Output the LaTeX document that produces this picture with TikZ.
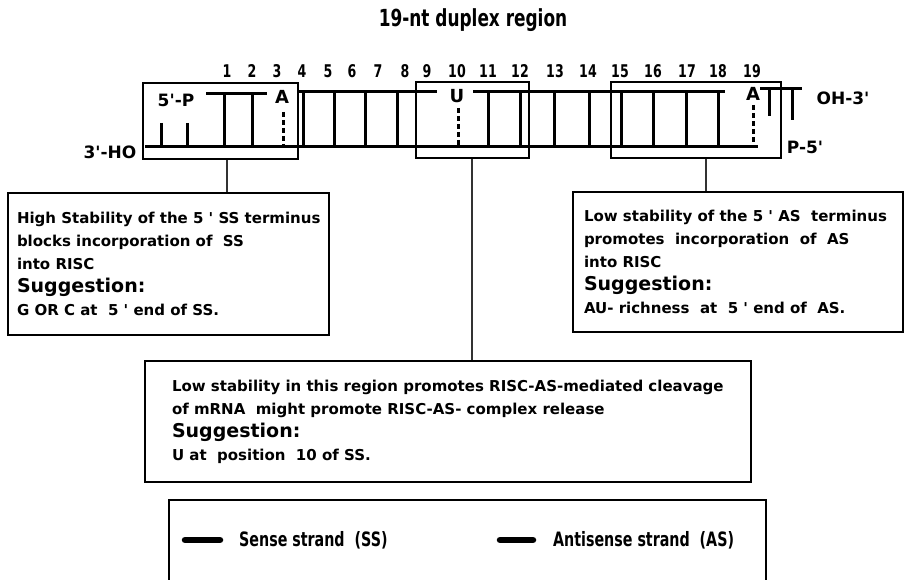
\documentclass[tikz,border=0pt]{standalone}
\usepackage{fontspec}
\setmainfont{DejaVu Sans}
\newfontfamily\narrowfont[FakeStretch=0.72]{DejaVu Sans}
\usetikzlibrary{positioning}
\newcommand{\prm}{\textquotesingle}
\newcommand{\sugg}{{\fontsize{19}{23}\selectfont Suggestion:}}
\tikzset{
  strand/.style={line width=3pt},
  rung/.style={line width=3pt},
  weakpair/.style={line width=3pt, dash pattern=on 5pt off 3pt},
  region/.style={draw, line width=2.6pt, inner sep=0pt},
  notebox/.style={draw, line width=2.4pt, inner sep=0pt},
  notetext/.style={font=\fontsize{15}{23}\selectfont\bfseries, align=left, inner sep=0pt},
  endlbl/.style={font=\fontsize{17}{17}\selectfont\bfseries, inner sep=0pt},
  posnum/.style={font=\narrowfont\fontsize{17.5}{18}\selectfont\bfseries, inner sep=0pt},
  keytext/.style={font=\narrowfont\fontsize{19.8}{20}\selectfont\bfseries, inner sep=0pt},
  link/.style={line width=1.2pt, black!80},
  keyline/.style={line width=6.5pt, line cap=round},
}

\begin{document}
\begin{tikzpicture}[x=1pt, y=-1pt]
  \useasboundingbox (0,0) rectangle (904,580);
  \node[font=\narrowfont\fontsize{23.5}{24}\selectfont\bfseries] (title) at (473,20) {19-nt duplex region};

  % nucleotide positions
  \foreach \n/\x in {1/227,2/252,3/277,4/302,5/328,6/352,7/378,8/405,9/427,10/457,
                     11/488,12/520,13/555,14/588,15/620,16/653,17/687,18/718,19/752}
    \node[posnum] (num\n) at (\x,71) {\n};

  % marked regions of the duplex
  \node[region, minimum width=155, minimum height=76] (r1) at (220.5,121) {};
  \node[region, minimum width=113, minimum height=76] (r2) at (472.5,120) {};
  \node[region, minimum width=170, minimum height=76] (r3) at (696,120) {};

  % strands
  \draw[strand] (145,147) -- (758,147);
  \draw[strand] (206,94) -- (267,94);
  \draw[strand] (298,92) -- (437,92);
  \draw[strand] (473,92) -- (725,92);
  \draw[strand] (760,89) -- (802,89);

  % base pairs
  \foreach \x in {224,252} \draw[rung] (\x,94) -- (\x,147);
  \foreach \x in {303,334,365,397,488,520,554,589,621,653,686,718}
    \draw[rung] (\x,92) -- (\x,147);
  \foreach \x in {161,187} \draw[rung] (\x,123) -- (\x,147);
  \draw[rung] (769,89) -- (769,116);
  \draw[rung] (792,89) -- (792,120);
  \draw[weakpair] (283,112) -- (283,147);
  \draw[weakpair] (458,108) -- (458,145);
  \draw[weakpair] (753,105) -- (753,142);

  % strand ends and bases
  \node[endlbl] (p5) at (176,100) {5\prm-P};
  \node[endlbl] (ho3) at (110,152) {3\prm-HO};
  \node[endlbl] (oh3) at (843,98) {OH-3\prm};
  \node[endlbl] (p5b) at (805,147) {P-5\prm};
  \node[endlbl, font=\fontsize{18}{18}\selectfont\bfseries] (baseA) at (282,97) {A};
  \node[endlbl, font=\fontsize{18}{18}\selectfont\bfseries] (baseU) at (457,96) {U};
  \node[endlbl, font=\fontsize{18}{18}\selectfont\bfseries] (baseA2) at (753,94) {A};

  % notes
  \node[notebox, minimum width=321, minimum height=142] (ssbox) at (168.5,264) {};
  \node[notetext, anchor=west] (sstext) at ([xshift=10]ssbox.west)
    {High Stability of the 5 \prm\ SS terminus\\blocks incorporation of\ \ SS\\into RISC\\\sugg\\G OR C at\ \ 5 \prm\ end of SS.};
  \node[notebox, minimum width=330, minimum height=140] (asbox) at (738,262) {};
  \node[notetext, anchor=west] (astext) at ([xshift=12]asbox.west)
    {Low stability of the 5 \prm\ AS\ \ terminus\\promotes\ \ incorporation\ \ of\ \ AS\\into RISC\\\sugg\\AU- richness\ \ at\ \ 5 \prm\ end of\ \ AS.};
  \node[notebox, minimum width=606, minimum height=121] (midbox) at (448,421.5) {};
  \node[notetext, anchor=west] (midtext) at ([xshift=28]midbox.west)
    {Low stability in this region promotes RISC-AS-mediated cleavage\\of mRNA\ \ might promote RISC-AS- complex release\\\sugg\\U at\ \ position\ \ 10 of SS.};

  \draw[link] ([xshift=6.5]r1.south) -- ([xshift=58.5]ssbox.north);
  \draw[link] ([xshift=-0.5]r2.south) -- ([xshift=24]midbox.north);
  \draw[link] ([xshift=10]r3.south) -- ([xshift=-32]asbox.north);

  % key
  \node[notebox, minimum width=597, minimum height=86, anchor=north west] (keybox) at (168,499) {};
  \draw[keyline] (185,540) -- (220,540);
  \node[keytext, anchor=west] (sslbl) at (239,540) {Sense strand\ \ (SS)};
  \draw[keyline] (500,540) -- (533,540);
  \node[keytext, anchor=west] (aslbl) at (553,540) {Antisense strand\ \ (AS)};
\end{tikzpicture}
\end{document}
